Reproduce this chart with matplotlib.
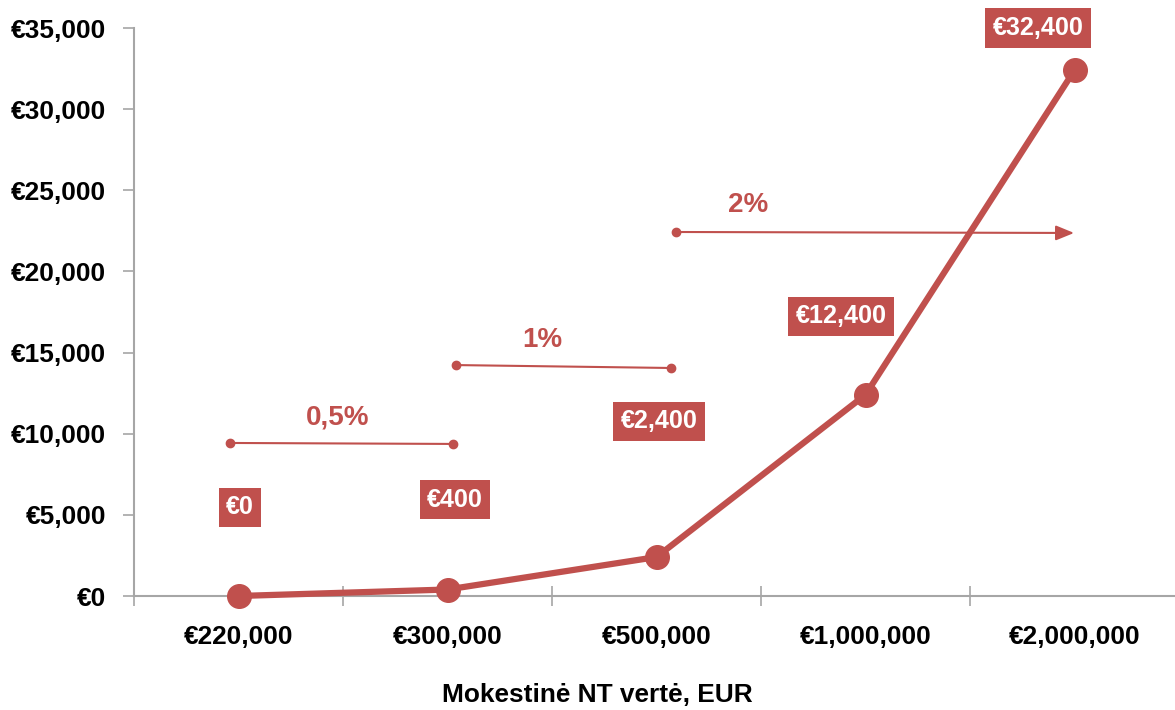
import matplotlib
matplotlib.use("Agg")
import matplotlib.pyplot as plt
from matplotlib import font_manager as fm
from matplotlib.ticker import FuncFormatter, FixedLocator

# ---- data ----
categories = ["€220,000", "€300,000", "€500,000", "€1,000,000", "€2,000,000"]
tax_values = [0, 400, 2400, 12400, 32400]
rate_labels = ["0,5%", "1%", "2%"]
y_ticks = [0, 5000, 10000, 15000, 20000, 25000, 30000, 35000]
x_title = "Mokestinė NT vertė, EUR"

# ---- layout (positions of annotations, in data coords) ----
label_pos = [(0.007, 5480), (1.036, 5920), (2.012, 10780), (2.883, 17250), (3.825, 35000)]
rate_lines = [((-0.041, 9430), (1.026, 9370)),
              ((1.041, 14230), (2.069, 14050)),
              ((2.093, 22430), (3.998, 22370))]
rate_text_pos = [(0.476, 11000), (1.455, 15780), (2.438, 24090)]

RED = "#c0504d"
GRAY = "#a6a6a6"

names = {f.name for f in fm.fontManager.ttflist}
HAS_NARROW = "Liberation Sans Narrow" in names
NARROW = "Liberation Sans Narrow" if HAS_NARROW else "Liberation Sans"
REG = "Liberation Sans" if "Liberation Sans" in names else "DejaVu Sans"
k = 1.0 if HAS_NARROW else 0.86

fig = plt.figure(figsize=(11.75, 7.10), dpi=100)
ax = fig.add_axes([134 / 1175, 114 / 710, 1045 / 1175, 568 / 710])

x = list(range(len(categories)))
ax.plot(x, tax_values, color=RED, lw=4.5, marker="o", ms=17, zorder=5, clip_on=False)

ax.set_xlim(-0.5, 4.5)
ax.set_ylim(0, 35000)

for s in ["top", "right"]:
    ax.spines[s].set_visible(False)
for s in ["left", "bottom"]:
    ax.spines[s].set_color(GRAY)
    ax.spines[s].set_linewidth(1.5)

ax.yaxis.set_major_locator(FixedLocator(y_ticks))
ax.yaxis.set_major_formatter(FuncFormatter(lambda v, p: "€{:,.0f}".format(v)))
ax.tick_params(axis="y", direction="out", length=8, width=1.2, color=GRAY, pad=12)
for lab in ax.get_yticklabels():
    lab.set_fontfamily(REG)
    lab.set_fontweight("bold")
    lab.set_fontsize(19)

ax.set_xticks(x)
ax.set_xticklabels(categories, fontfamily=NARROW, fontweight="bold", fontsize=22 * k)
ax.tick_params(axis="x", which="major", length=0, pad=21)
ax.set_xticks([i - 0.5 for i in range(len(categories) + 1)], minor=True)
ax.tick_params(axis="x", which="minor", direction="inout", length=14, width=1.2, color=GRAY)

# data labels
for (lx, ly), v in zip(label_pos, tax_values):
    ax.text(lx, ly, "€{:,.0f}".format(v), ha="center", va="center", color="white",
            fontfamily=NARROW, fontweight="bold", fontsize=21 * k, zorder=6,
            bbox=dict(boxstyle="square,pad=0.3", fc=RED, ec="none"))

# rate lines
for i, ((x0, y0), (x1, y1)) in enumerate(rate_lines):
    if i < 2:
        ax.plot([x0, x1], [y0, y1], color=RED, lw=1.5, marker="o", ms=6, zorder=4)
    else:
        ax.plot([x0], [y0], color=RED, marker="o", ms=6, zorder=4)
        ax.annotate("", xy=(x1, y1), xytext=(x0, y0),
                    arrowprops=dict(arrowstyle="-|>,head_length=1.1,head_width=0.45",
                                    color=RED, lw=1.5, shrinkA=0, shrinkB=0), zorder=4)
for (tx, ty), t in zip(rate_text_pos, rate_labels):
    ax.text(tx, ty, t, ha="center", va="center", color=RED, fontfamily=REG,
            fontweight="bold", fontsize=20)

fig.text(597 / 1175, 1 - 695 / 710, x_title, ha="center", va="center",
         fontfamily=NARROW, fontweight="bold", fontsize=22 * k)

fig.savefig("out.png", dpi=100)
